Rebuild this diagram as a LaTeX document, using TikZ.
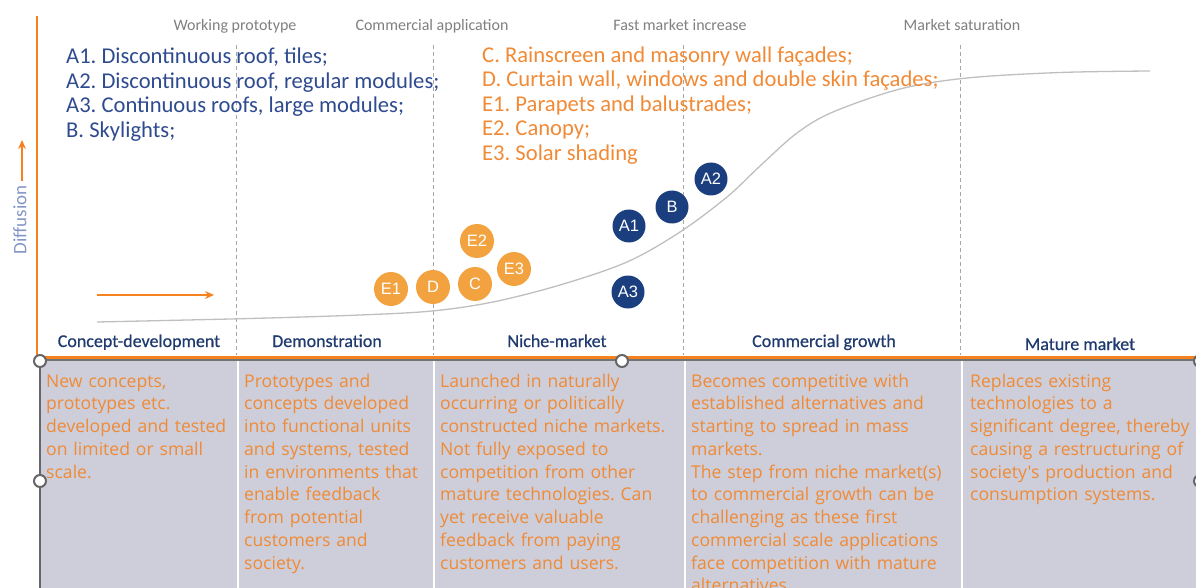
\documentclass[tikz,border=0pt]{standalone}
\usepackage{fontspec}
\usetikzlibrary{arrows.meta}
\setmainfont{Carlito}
\newfontfamily\tabfont{Open Sans}
\newfontfamily\circfont{Liberation Sans}
\newfontfamily\phasefont[FakeBold=0.6]{Carlito}
\definecolor{axisor}{HTML}{F5821F}
\definecolor{txtor}{HTML}{F08A36}
\definecolor{circor}{HTML}{F2A33F}
\definecolor{navy}{HTML}{1B3F7E}
\definecolor{listblue}{HTML}{2E4B90}
\definecolor{phaseblue}{HTML}{1F3A6E}
\definecolor{tabgray}{HTML}{CDCED9}
\definecolor{dashgray}{HTML}{A6A6A6}
\definecolor{toplab}{HTML}{7F7F7F}
\definecolor{diffblue}{HTML}{8496C8}
\definecolor{curvegray}{HTML}{BFBFBF}
\begin{document}
\frenchspacing
\begin{tikzpicture}[x=1pt,y=-1pt,
  phaseline/.style={dashgray,dash pattern=on 4pt off 3pt,line width=0.9pt},
  toplabel/.style={toplab,font=\fontsize{16}{18}\selectfont,inner sep=0,anchor=base},
  phaselabel/.style={phaseblue,font=\phasefont\fontsize{18}{20}\selectfont,inner sep=0,anchor=base},
  listA/.style={listblue,font=\fontsize{22.6}{24.5}\selectfont,inner sep=0,anchor=base west},
  listC/.style={txtor,font=\fontsize{22.6}{24.5}\selectfont,inner sep=0,anchor=base west},
  celltext/.style={txtor,font=\tabfont\fontsize{17.6}{22.75}\selectfont,inner sep=0,anchor=base west,text width=270pt,align=left},
  navyc/.style={circle,fill=navy,text=white,minimum size=33pt,inner sep=0,font=\circfont\fontsize{16.5}{18}\selectfont},
  orc/.style={circle,fill=circor,text=white,minimum size=34pt,inner sep=0,font=\circfont\fontsize{16.5}{18}\selectfont},
  handle/.style={circle,draw=black!60,fill=white,line width=2pt,minimum size=12pt,inner sep=0},
  orarrow/.style={axisor,line width=1.3pt,-{Stealth[length=9pt,width=8pt]}},
  sep/.style={white,line width=2pt}]
\useasboundingbox (0,0) rectangle (1196,588);
\clip (0,0) rectangle (1196,588);
% table
\fill[tabgray] (40,360) rectangle (1196,588);
\draw[sep] (237.5,361) -- (237.5,588);
\draw[sep] (433.5,361) -- (433.5,588);
\draw[sep] (685,361) -- (685,588);
\draw[sep] (962,361) -- (962,588);
\draw[black!55,line width=1.2pt] (40,360) -- (1196,360);
\draw[black!60,line width=1.4pt] (40,360) -- (40,588);
% dashed phase lines
\draw[phaseline] (236,45) -- (236,355);
\draw[phaseline] (433,45) -- (433,355);
\draw[phaseline] (683,45) -- (683,355);
\draw[phaseline] (960,45) -- (960,355);
% axes
\draw[axisor,line width=2.6pt] (37,16) -- (37,357.5) -- (1196,357.5);
% curve
\draw[curvegray,line width=1.3pt] plot[smooth,tension=0.55] coordinates {(97,322) (250,318.5) (360,315) (432,311) (493,302) (560,285) (627,262) (680,232) (727,197) (760,166) (797,133) (833,112) (900,89) (967,78) (1060,72.5) (1150,71)};
% top labels
\node[toplabel] (wp) at (235,31) {Working prototype};
\node[toplabel] (ca) at (432,31) {Commercial application};
\node[toplabel] (fm) at (680,31) {Fast market increase};
\node[toplabel] (ms) at (962,31) {Market saturation};
% lists
\node[listA] (la1) at (66,64) {A1. Discontinuous roof, tiles;};
\node[listA] (la2) at (66,88.5) {A2. Discontinuous roof, regular modules;};
\node[listA] (la3) at (66,113) {A3. Continuous roofs, large modules;};
\node[listA] (lb) at (66,137.5) {B. Skylights;};
\node[listC] (lc) at (482,62.5) {C. Rainscreen and masonry wall façades;};
\node[listC] (ld) at (482,87) {D. Curtain wall, windows and double skin façades;};
\node[listC] (le1) at (482,111.5) {E1. Parapets and balustrades;};
\node[listC] (le2) at (482,136) {E2. Canopy;};
\node[listC] (le3) at (482,160.5) {E3. Solar shading};
% diffusion axis label
\node[diffblue,font=\fontsize{19}{21}\selectfont,rotate=90,inner sep=0] (diff) at (20,220) {Diffusion};
\coordinate (da0) at (22,181);
\coordinate (da1) at (22,140);
\draw[orarrow] (da0) -- (da1);
\coordinate (ha0) at (97,295);
\coordinate (ha1) at (214,295);
\draw[orarrow] (ha0) -- (ha1);
% circles
\node[orc] (E1) at (391,289) {E1};
\node[orc] (D) at (433,287) {D};
\node[orc] (C) at (475,284) {C};
\node[orc] (E2) at (477,241) {E2};
\node[orc] (E3) at (514,269) {E3};
\node[navyc] (A1) at (629,226) {A1};
\node[navyc] (A3) at (628,292) {A3};
\node[navyc] (B) at (672,207) {B};
\node[navyc] (A2) at (711,179) {A2};
% phase labels
\node[phaselabel] (p1) at (139,347) {Concept-development};
\node[phaselabel] (p2) at (327,347) {Demonstration};
\node[phaselabel] (p3) at (557,347) {Niche-market};
\node[phaselabel] (p4) at (824,347) {Commercial growth};
\node[phaselabel] (p5) at (1080,350) {Mature market};
% cell texts
\node[celltext] (t1) at (46,387) {New concepts,\\prototypes etc.\\developed and tested\\on limited or small\\scale.};
\node[celltext] (t2) at (244,387) {Prototypes and\\concepts developed\\into functional units\\and systems, tested\\in environments that\\enable feedback\\from potential\\customers and\\society.};
\node[celltext] (t3) at (440,387) {Launched in naturally\\occurring or politically\\constructed niche markets.\\Not fully exposed to\\competition from other\\mature technologies. Can\\yet receive valuable\\feedback from paying\\customers and users.};
\node[celltext] (t4) at (691,387) {Becomes competitive with\\established alternatives and\\starting to spread in mass\\markets.\\The step from niche market(s)\\to commercial growth can be\\challenging as these first\\commercial scale applications\\face competition with mature\\alternatives.};
\node[celltext] (t5) at (970,387) {Replaces existing\\technologies to a\\significant degree, thereby\\causing a restructuring of\\society's production and\\consumption systems.};
% selection handles
\node[handle] (h1) at (40,361) {};
\node[handle] (h2) at (40,481) {};
\node[handle] (h3) at (622,361) {};
\node[handle] (h4) at (1200,361) {};
\node[handle] (h5) at (1200,481) {};
\end{tikzpicture}
\end{document}
